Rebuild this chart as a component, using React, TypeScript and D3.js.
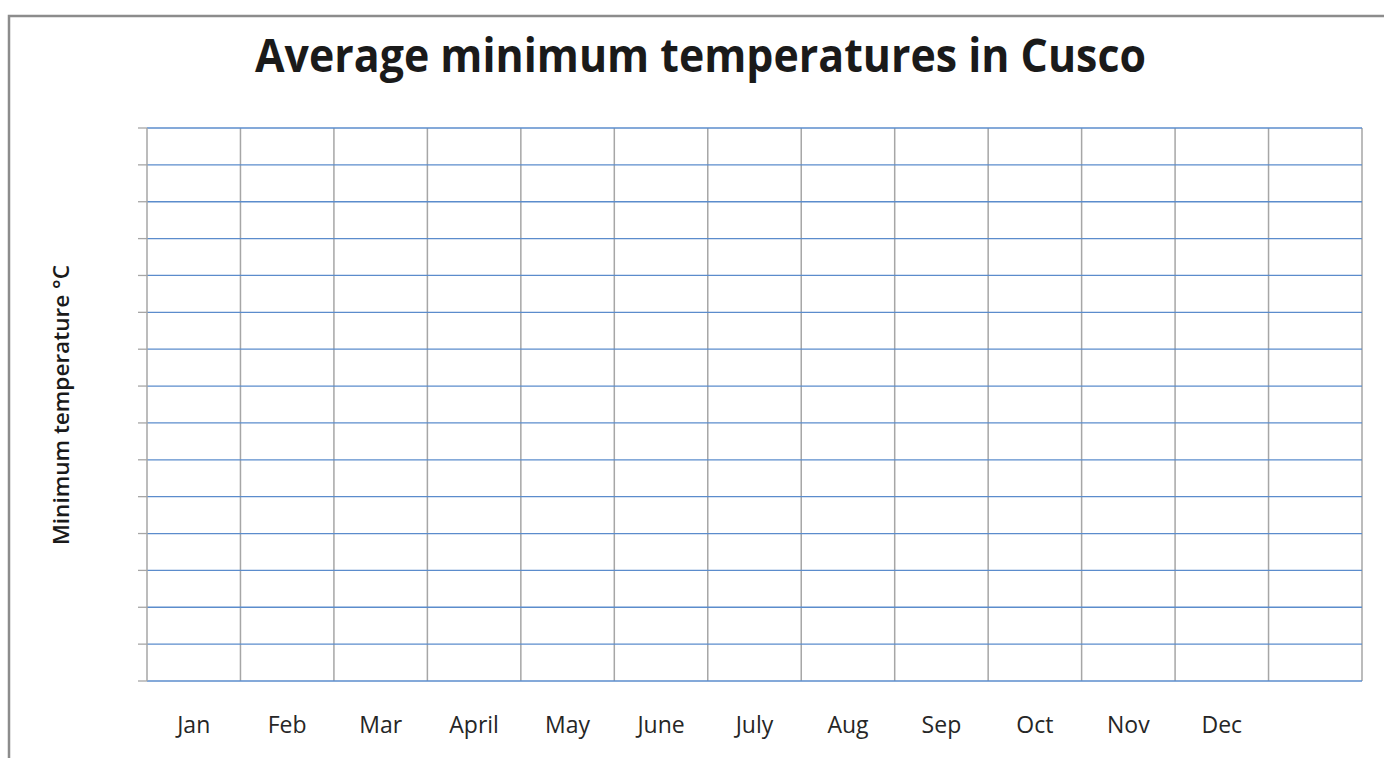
import React from "react";
import * as d3 from "d3";

const title = "Average minimum temperatures in Cusco";
const yAxisTitle = "Minimum temperature °C";
const months = ["Jan", "Feb", "Mar", "April", "May", "June", "July", "Aug", "Sep", "Oct", "Nov", "Dec", ""];
const yTicks = [0, 1, 2, 3, 4, 5, 6, 7, 8, 9, 10, 11, 12, 13, 14, 15];

const W = 1384;
const H = 758;
const plot = { left: 147, right: 1362, top: 128, bottom: 681 };

export default function App() {
  const x = d3.scaleBand<string>().domain(months.map((m, i) => i + ":" + m)).range([plot.left, plot.right]).padding(0);
  const y = d3.scaleLinear().domain([yTicks[0], yTicks[yTicks.length - 1]]).range([plot.bottom, plot.top]);
  const keys = x.domain();
  const bw = x.bandwidth();
  const gridBlue = "#5b8ccc";
  const gridGray = "#a6a6a6";
  return (
    <svg width={W} height={H} style={{ position: "fixed", left: 0, top: 0, background: "#fff" }}>
      <rect x={9} y={16} width={1500} height={900} fill="#fff" stroke="#8c8c8c" strokeWidth={2.5} />
      <text x={255} y={72} textLength={891} lengthAdjust="spacingAndGlyphs" fontFamily="'Open Sans', Lato, sans-serif" fontWeight={700} fontSize={46} fill="#1a1a1a">
        {title}
      </text>
      {/* vertical gridlines */}
      {keys.map((k) => (
        <line key={"v" + k} x1={(x(k) as number) + bw} x2={(x(k) as number) + bw} y1={plot.top} y2={plot.bottom} stroke={gridGray} strokeWidth={1.5} />
      ))}
      {/* horizontal gridlines */}
      {yTicks.map((t) => (
        <line key={"h" + t} x1={plot.left} x2={plot.right} y1={y(t)} y2={y(t)} stroke={gridBlue} strokeWidth={1.3} />
      ))}
      {/* y axis */}
      <line x1={plot.left} x2={plot.left} y1={plot.top} y2={plot.bottom} stroke={gridGray} strokeWidth={1.5} />
      {yTicks.map((t) => (
        <line key={"t" + t} x1={plot.left - 9} x2={plot.left} y1={y(t)} y2={y(t)} stroke={gridGray} strokeWidth={1.3} />
      ))}
      {keys.map((k, i) => (
        <text key={"l" + k} x={(x(k) as number) + bw / 2} y={733} textAnchor="middle" fontFamily="'Open Sans', Lato, sans-serif" fontSize={23} fill="#262626">
          {months[i]}
        </text>
      ))}
      <text transform={`translate(69, 545) rotate(-90)`} textLength={280} lengthAdjust="spacingAndGlyphs" fontFamily="'Open Sans', Lato, sans-serif" fontWeight={600} fontSize={22} fill="#1a1a1a">
        {yAxisTitle}
      </text>
    </svg>
  );
}
